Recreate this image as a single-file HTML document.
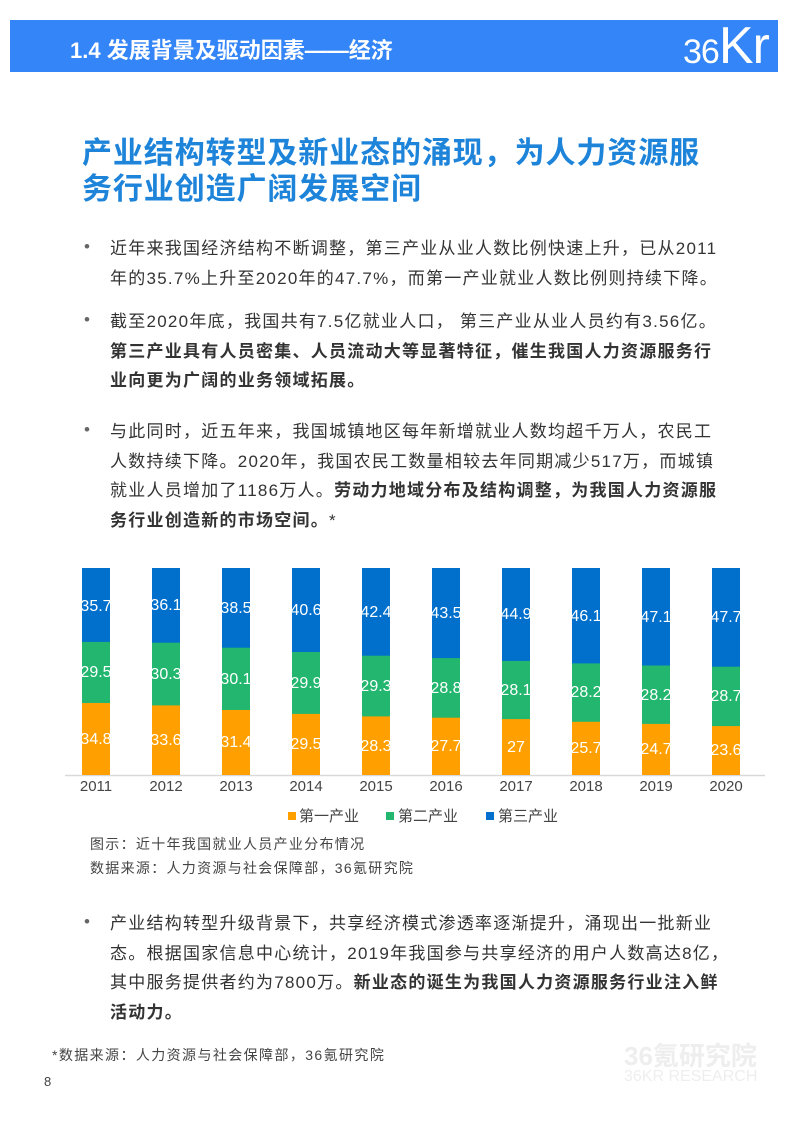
<!DOCTYPE html>
<html><head><meta charset="utf-8"><style>
body{margin:0;width:794px;height:1123px;position:relative;background:#fff;font-family:"Liberation Sans","Noto Sans CJK SC",sans-serif;overflow:hidden}
.a{position:absolute;white-space:nowrap}
.hd{left:10px;top:20px;width:768px;height:52px;background:#3385f8}
.t{color:#fff;font-size:22px;font-weight:bold;left:70px;top:33px}
.h1{left:82px;color:#1d84da;font-size:30px;font-weight:bold;line-height:36px;letter-spacing:0.9px}
.p{left:110px;font-size:17px;color:#333;line-height:29.5px;letter-spacing:1.25px}
.d{left:84px;font-size:17px;color:#666;margin-top:3px}
b{color:#333}
.cap{left:90px;font-size:14px;color:#444;letter-spacing:1.3px}
</style></head><body>
<div class="a hd"></div>
<div class="a t">1.4 发展背景及驱动因素——经济</div>
<div class="a" style="left:683px;top:16px;color:#fff;font-size:34px;font-family:'Liberation Sans',sans-serif;letter-spacing:-1px">36<span style="font-size:52px">Kr</span></div>
<div class="a h1" style="top:136px">产业结构转型及新业态的涌现，为人力资源服<br>务行业创造广阔发展空间</div>

<div class="a d" style="top:234px">•</div>
<div class="a p" style="top:234px">近年来我国经济结构不断调整，第三产业从业人数比例快速上升，已从2011<br>年的35.7%上升至2020年的47.7%，而第一产业就业人数比例则持续下降。</div>
<div class="a d" style="top:307px">•</div>
<div class="a p" style="top:307px">截至2020年底，我国共有7.5亿就业人口， 第三产业从业人员约有3.56亿。<br><b>第三产业具有人员密集、人员流动大等显著特征，催生我国人力资源服务行<br>业向更为广阔的业务领域拓展。</b></div>
<div class="a d" style="top:417px">•</div>
<div class="a p" style="top:417px">与此同时，近五年来，我国城镇地区每年新增就业人数均超千万人，农民工<br>人数持续下降。2020年，我国农民工数量相较去年同期减少517万，而城镇<br>就业人员增加了1186万人。<b>劳动力地域分布及结构调整，为我国人力资源服<br>务行业创造新的市场空间。</b>*</div>

<svg class="a" style="left:0;top:0" width="794" height="900">
<g font-family="Liberation Sans, sans-serif" font-size="16" fill="#fff" text-anchor="middle">
<line x1="65" y1="775.5" x2="765" y2="775.5" stroke="#d9d9d9" stroke-width="1.5"/>
<rect x="82" y="568" width="28" height="207" fill="#0070cc"/><rect x="82" y="641.9" width="28" height="133.1" fill="#22b66e"/><rect x="82" y="703" width="28" height="72" fill="#ffa000"/>
<text x="96" y="611">35.7</text><text x="96" y="677">29.5</text><text x="96" y="744">34.8</text>
<rect x="152" y="568" width="28" height="207" fill="#0070cc"/><rect x="152" y="642.7" width="28" height="132.3" fill="#22b66e"/><rect x="152" y="705.4" width="28" height="69.6" fill="#ffa000"/>
<text x="166" y="610">36.1</text><text x="166" y="679">30.3</text><text x="166" y="745">33.6</text>
<rect x="222" y="568" width="28" height="207" fill="#0070cc"/><rect x="222" y="647.7" width="28" height="127.3" fill="#22b66e"/><rect x="222" y="710" width="28" height="65" fill="#ffa000"/>
<text x="236" y="613">38.5</text><text x="236" y="684">30.1</text><text x="236" y="747">31.4</text>
<rect x="292" y="568" width="28" height="207" fill="#0070cc"/><rect x="292" y="652" width="28" height="123" fill="#22b66e"/><rect x="292" y="713.9" width="28" height="61.1" fill="#ffa000"/>
<text x="306" y="615">40.6</text><text x="306" y="688">29.9</text><text x="306" y="749">29.5</text>
<rect x="362" y="568" width="28" height="207" fill="#0070cc"/><rect x="362" y="655.7" width="28" height="119.3" fill="#22b66e"/><rect x="362" y="716.4" width="28" height="58.6" fill="#ffa000"/>
<text x="376" y="617">42.4</text><text x="376" y="691">29.3</text><text x="376" y="751">28.3</text>
<rect x="432" y="568" width="28" height="207" fill="#0070cc"/><rect x="432" y="658.1" width="28" height="116.9" fill="#22b66e"/><rect x="432" y="717.7" width="28" height="57.3" fill="#ffa000"/>
<text x="446" y="618">43.5</text><text x="446" y="693">28.8</text><text x="446" y="751">27.7</text>
<rect x="502" y="568" width="28" height="207" fill="#0070cc"/><rect x="502" y="660.9" width="28" height="114.1" fill="#22b66e"/><rect x="502" y="719.1" width="28" height="55.9" fill="#ffa000"/>
<text x="516" y="619">44.9</text><text x="516" y="695">28.1</text><text x="516" y="752">27</text>
<rect x="572" y="568" width="28" height="207" fill="#0070cc"/><rect x="572" y="663.4" width="28" height="111.6" fill="#22b66e"/><rect x="572" y="721.8" width="28" height="53.2" fill="#ffa000"/>
<text x="586" y="621">46.1</text><text x="586" y="697">28.2</text><text x="586" y="753">25.7</text>
<rect x="642" y="568" width="28" height="207" fill="#0070cc"/><rect x="642" y="665.5" width="28" height="109.5" fill="#22b66e"/><rect x="642" y="723.9" width="28" height="51.1" fill="#ffa000"/>
<text x="656" y="622">47.1</text><text x="656" y="700">28.2</text><text x="656" y="754">24.7</text>
<rect x="712" y="568" width="28" height="207" fill="#0070cc"/><rect x="712" y="666.7" width="28" height="108.3" fill="#22b66e"/><rect x="712" y="726.1" width="28" height="48.9" fill="#ffa000"/>
<text x="726" y="622">47.7</text><text x="726" y="701">28.7</text><text x="726" y="755">23.6</text>
<g fill="#444" font-size="15">
<text x="96" y="791">2011</text><text x="166" y="791">2012</text><text x="236" y="791">2013</text><text x="306" y="791">2014</text><text x="376" y="791">2015</text><text x="446" y="791">2016</text><text x="516" y="791">2017</text><text x="586" y="791">2018</text><text x="656" y="791">2019</text><text x="726" y="791">2020</text>
</g>
<rect x="288" y="812" width="8" height="8" fill="#ffa000"/>
<rect x="386" y="812" width="8" height="8" fill="#22b66e"/>
<rect x="486" y="812" width="8" height="8" fill="#0070cc"/>
</g>
<g font-family="Liberation Sans, Noto Sans CJK SC, sans-serif" font-size="15" fill="#444">
<text x="299" y="821">第一产业</text><text x="398" y="821">第二产业</text><text x="498" y="821">第三产业</text>
</g>
</svg>
<div class="a cap" style="top:834px">图示：近十年我国就业人员产业分布情况</div>
<div class="a cap" style="top:858px">数据来源：人力资源与社会保障部，36氪研究院</div>

<div class="a d" style="top:909px">•</div>
<div class="a p" style="top:909px">产业结构转型升级背景下，共享经济模式渗透率逐渐提升，涌现出一批新业<br>态。根据国家信息中心统计，2019年我国参与共享经济的用户人数高达8亿，<br>其中服务提供者约为7800万。<b>新业态的诞生为我国人力资源服务行业注入鲜<br>活动力。</b></div>
<div class="a" style="left:52px;top:1045px;font-size:14px;color:#444;letter-spacing:1.4px">*数据来源：人力资源与社会保障部，36氪研究院</div>
<div class="a" style="left:44px;top:1074px;font-size:13px;color:#444">8</div>
<div class="a" style="left:624px;top:1036px;font-size:26px;font-weight:bold;color:#eee">36氪研究院</div>
<div class="a" style="left:624px;top:1068px;font-size:16px;color:#eee">36KR RESEARCH</div>
</body></html>
